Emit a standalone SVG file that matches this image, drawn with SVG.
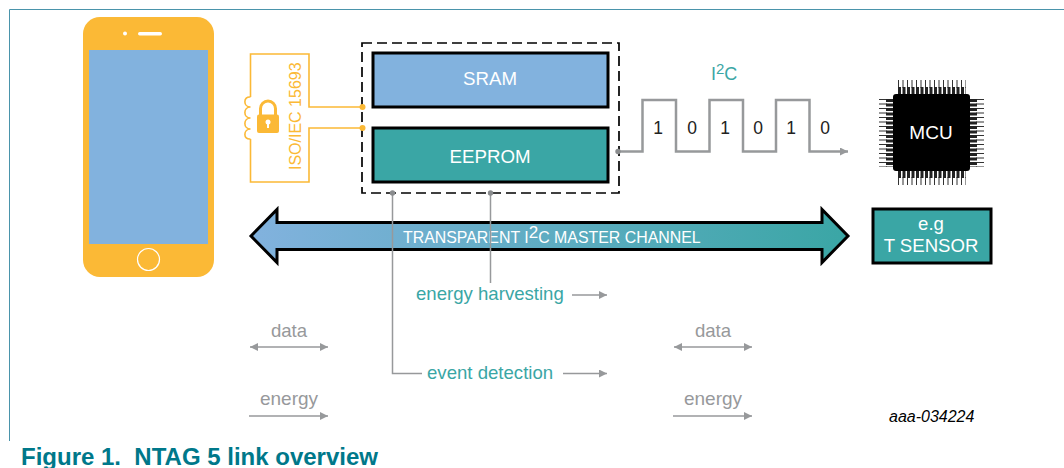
<svg xmlns="http://www.w3.org/2000/svg" width="1064" height="468" viewBox="0 0 1064 468">
<style>
text{font-family:"Liberation Sans",Arial,sans-serif}
.w{fill:#fff}.t{fill:#3aa6a5}.g{fill:#97999b}.c{text-anchor:middle}
.box{stroke:#000;stroke-width:3}
.ant{fill:none;stroke:#fbb936;stroke-width:1.6}
.wire{fill:none;stroke:#97999b;stroke-width:1.5}
</style>
<defs>
<linearGradient id="grad" x1="251" x2="848" y1="0" y2="0" gradientUnits="userSpaceOnUse"><stop offset="0" stop-color="#82b2de"/><stop offset="1" stop-color="#3aa6a5"/></linearGradient>
<marker id="ah" viewBox="0 0 8 8" refX="8" refY="4" markerWidth="8" markerHeight="8" markerUnits="userSpaceOnUse" orient="auto-start-reverse"><path d="M0 0L8 4L0 8z" fill="#97999b"/></marker>
</defs>
<path d="M1064 9.500H9.500V441" fill="none" stroke="#4a94ab" stroke-width="1"/>
<g id="phone">
<rect x="83" y="17" width="131" height="260" rx="17" fill="#fbb936"/>
<rect x="89" y="50" width="119" height="194" fill="#82b2de"/>
<circle cx="125" cy="33.500" r="2" fill="#fff"/>
<rect x="138" y="32" width="24" height="3.500" rx="1.700" fill="#fff"/>
<circle cx="148.500" cy="259.500" r="11" fill="none" stroke="#fff" stroke-width="1.200"/>
</g>
<g id="memory">
<rect x="362" y="43" width="257" height="150" fill="none" stroke="#000" stroke-width="1.700" stroke-dasharray="10 5"/>
</g>
<g id="antenna">
<path class="ant" d="M362 107H309V54H250.500V97M250.500 139V182H309V128H362"/>
<path class="ant" d="M250.500 97C243 96 243 107 250.500 107C243 107 243 118 250.500 118C243 118 243 129 250.500 129C243 129 243 140 250.500 139"/>
<circle cx="362.500" cy="107" r="3" fill="#fbb936"/>
<circle cx="362.500" cy="128" r="3" fill="#fbb936"/>
<path d="M260.500 115V108.500A7.500 7.500 0 0 1 275.500 108.500V115" fill="none" stroke="#fbb936" stroke-width="3"/>
<rect x="257" y="114.500" width="22" height="18.500" rx="2" fill="#fbb936"/>
<circle cx="268" cy="122" r="2.500" fill="#fff"/><rect x="267" y="122" width="2" height="6" fill="#fff"/>
<text transform="translate(301 170) rotate(-90)" font-size="16" fill="#fbb936">ISO/IEC 15693</text>
</g>
<g id="sram">
<rect class="box" x="373" y="53" width="235" height="54" fill="#82b2de"/>
<text class="w c" x="490" y="84.500" font-size="18.700">SRAM</text>
</g>
<g id="eeprom">
<rect class="box" x="373" y="128" width="235" height="54" fill="#3aa6a5"/>
<text class="w c" x="490" y="162.500" font-size="18.700">EEPROM</text>
</g>
<g id="bus">
<path d="M251 236L277 209.500V222.500H822V209.500L848 236L822 262.500V249.500H277V262.500z" fill="url(#grad)" stroke="#000" stroke-width="3" stroke-linejoin="miter"/>
<text class="w" x="403" y="242.500" font-size="15.900">TRANSPARENT I<tspan font-size="17" dy="-5">2</tspan><tspan dy="5">C MASTER CHANNEL</tspan></text>
</g>
<g id="connectors">
<path d="M618 151.500H642.500V100H676V151.500H709.500V100H743V151.500H776V100H809.500V151.500H848" fill="none" stroke="#97999b" stroke-width="2.500" marker-end="url(#ah)"/>
<circle cx="618" cy="151.500" r="2.700" fill="#8a8c8e"/>
<path class="wire" d="M392.500 193V373.500H422"/>
<path class="wire" d="M490.500 193V283"/>
<circle cx="392.500" cy="193" r="2.700" fill="#8a8c8e"/>
<circle cx="490.500" cy="193" r="2.700" fill="#8a8c8e"/>
<path class="wire" d="M572 295H607" marker-end="url(#ah)"/>
<path class="wire" d="M563 373.500H607" marker-end="url(#ah)"/>
<path class="wire" d="M250 347H328" marker-start="url(#ah)" marker-end="url(#ah)"/>
<path class="wire" d="M249 416H328" marker-end="url(#ah)"/>
<path class="wire" d="M674 347H752" marker-start="url(#ah)" marker-end="url(#ah)"/>
<path class="wire" d="M673 416H752" marker-end="url(#ah)"/>
</g>
<g id="i2c-label">
<text class="t" x="711" y="79.500" font-size="18">I<tspan font-size="15" dy="-6">2</tspan><tspan dy="6">C</tspan></text>
<g font-size="17.500" fill="#222" text-anchor="middle">
<text x="658" y="133.500">1</text><text x="692" y="133.500">0</text><text x="725" y="133.500">1</text><text x="758" y="133.500">0</text><text x="791" y="133.500">1</text><text x="825" y="133.500">0</text>
</g>
</g>
<g id="mcu">
<g fill="none" stroke="#222">
<path d="M898 84H966" stroke-width="8" stroke-dasharray="1 3.500" stroke="#333"/>
<path d="M898 90.500H966" stroke-width="7" stroke-dasharray="3 1.500"/>
<path d="M898 181H966" stroke-width="8" stroke-dasharray="1 3.500" stroke="#333"/>
<path d="M898 174.500H966" stroke-width="7" stroke-dasharray="3 1.500"/>
<path d="M883 99V167" stroke-width="8" stroke-dasharray="1 3.500" stroke="#333"/>
<path d="M889.500 99V167" stroke-width="7" stroke-dasharray="3 1.500"/>
<path d="M980 99V167" stroke-width="8" stroke-dasharray="1 3.500" stroke="#333"/>
<path d="M973.500 99V167" stroke-width="7" stroke-dasharray="3 1.500"/>
</g>
<rect x="893" y="94" width="77" height="77" rx="3" fill="#000"/>
<text class="w c" x="931" y="139" font-size="19">MCU</text>
</g>
<g id="sensor">
<rect class="box" x="873" y="209" width="118" height="54" fill="#3aa6a5"/>
<text class="w c" x="931" y="230" font-size="18.600">e.g</text>
<text class="w c" x="931" y="252" font-size="18.600">T SENSOR</text>
</g>
<g id="labels">
<text class="t" x="416" y="300" font-size="18.600">energy harvesting</text>
<text class="t" x="427" y="378.500" font-size="18.600">event detection</text>
<text class="g c" x="289" y="337" font-size="18.600">data</text>
<text class="g c" x="289" y="405" font-size="19">energy</text>
<text class="g c" x="713" y="337" font-size="18.600">data</text>
<text class="g c" x="713" y="405" font-size="19">energy</text>
<text x="889" y="422" font-size="16" font-style="italic" fill="#000">aaa-034224</text>
<text x="21" y="465" font-size="24" font-weight="bold" fill="#00788a" style="white-space:pre">Figure 1.  NTAG 5 link overview</text>
</g>
</svg>
